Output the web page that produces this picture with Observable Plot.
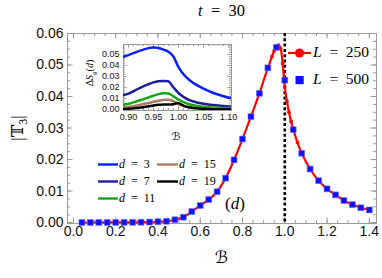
<!DOCTYPE html>
<html><head><meta charset="utf-8">
<script src="https://cdn.jsdelivr.net/npm/d3@7"></script>
<script src="https://cdn.jsdelivr.net/npm/@observablehq/plot@0.6"></script>
<style>
body{margin:0;background:#fff;}
#c{position:relative;width:382px;height:278px;overflow:hidden;}
#c svg{position:absolute;overflow:visible;}
</style></head><body><div id="c"></div>
<script>
// ---- main panel data ----
const B500 = [0.04,0.08,0.12,0.16,0.20,0.24,0.28,0.32,0.36,0.40,0.44,0.48,0.52,0.56,0.60,0.64,0.68,0.72,0.76,0.80,0.84,0.88,0.92,0.96,1.00,1.04,1.08,1.12,1.16,1.20,1.24,1.28,1.32,1.36,1.40];
const T500 = [0.00002,0.00002,0.00003,0.00003,0.00004,0.00005,0.00007,0.0001,0.00015,0.00025,0.0004,0.0009,0.0017,0.0035,0.0054,0.0073,0.0098,0.0141,0.0199,0.0265,0.0336,0.0410,0.0491,0.0556,0.0452,0.0295,0.0220,0.0170,0.0133,0.0107,0.0088,0.0070,0.0057,0.0047,0.0040];
const B250 = [0.04,0.08,0.12,0.16,0.20,0.24,0.28,0.32,0.36,0.40,0.44,0.48,0.52,0.56,0.60,0.64,0.68,0.72,0.76,0.80,0.84,0.88,0.92,0.94,0.95,0.96,0.97,0.98,0.99,1.00,1.01,1.02,1.03,1.04,1.06,1.08,1.12,1.16,1.20,1.24,1.28,1.32,1.36,1.40];
const T250 = [0.00002,0.00002,0.00003,0.00003,0.00004,0.00005,0.00007,0.0001,0.00015,0.00025,0.0004,0.0009,0.0017,0.0035,0.0054,0.0073,0.0098,0.0141,0.0199,0.0265,0.0336,0.0410,0.0491,0.0527,0.0545,0.0557,0.0563,0.0553,0.0505,0.0430,0.0385,0.0350,0.0321,0.0297,0.0254,0.0221,0.0170,0.0133,0.0107,0.0088,0.0070,0.0057,0.0047,0.0040];
const criticalB = [1.0];
const xTicks = [0,0.2,0.4,0.6,0.8,1.0,1.2,1.4];
const yTicks = [0,0.01,0.02,0.03,0.04,0.05,0.06];
const sizes = ["250","500"];

// ---- inset data ----
const insetB = [0.89,0.90,0.92,0.94,0.95,0.96,0.97,0.98,0.99,1.00,1.01,1.02,1.03,1.05,1.07,1.09,1.105];
const S3  = [0.0480,0.0495,0.0530,0.0558,0.0563,0.0560,0.0545,0.0525,0.0480,0.0385,0.0320,0.0275,0.0240,0.0190,0.0150,0.0120,0.0102];
const S7  = [0.0132,0.0145,0.0190,0.0230,0.0247,0.0257,0.0260,0.0255,0.0200,0.0150,0.0115,0.0090,0.0073,0.0052,0.0040,0.0031,0.0026];
const S11 = [0.0045,0.0052,0.0080,0.0110,0.0125,0.0140,0.0148,0.0145,0.0120,0.0090,0.0067,0.0050,0.0038,0.0025,0.0018,0.0013,0.0011];
const S15 = [0.0018,0.0024,0.0040,0.0060,0.0070,0.0080,0.0087,0.0089,0.0075,0.0050,0.0033,0.0022,0.0016,0.0009,0.0006,0.0004,0.0004];
const S19 = [0.0004,0.0007,0.0016,0.0030,0.0037,0.0043,0.0046,0.0046,0.0048,0.0058,0.0035,0.0020,0.0013,0.0006,0.0003,0.0002,0.0002];
const dValues = [3,7,11,15,19];
const dColors = ["#0a1eff","#1c1c9c","#14a814","#a97c5c","#000000"];
const insetXTicks = [0.90,0.95,1.00,1.05,1.10];
const insetYTicks = [0,0.01,0.02,0.03,0.04,0.05];

const SANS = "'Liberation Sans', Arial, sans-serif";
const SERIF = "'Liberation Serif', 'DejaVu Serif', 'DejaVu Sans', serif";
const FRAME = "#9a9a9a";

function steps(a, b, s){ const o=[]; const n=Math.round((b-a)/s); for(let i=0;i<=n;i++) o.push(+(a+i*s).toFixed(6)); return o; }
function frameTicks(xs, ys, len, fw, fh){
  return [
    Plot.tickX(xs, {x: d=>d, insetTop: fh-len, stroke: FRAME}),
    Plot.tickX(xs, {x: d=>d, insetBottom: fh-len, stroke: FRAME}),
    Plot.tickY(ys, {y: d=>d, insetRight: fw-len, stroke: FRAME}),
    Plot.tickY(ys, {y: d=>d, insetLeft: fw-len, stroke: FRAME})
  ];
}
function rich(sel, x, y, parts, size, anchor, rotate){
  const t = sel.append("text").attr("x",x).attr("y",y)
    .attr("font-family",SERIF).attr("font-size",size)
    .attr("text-anchor",anchor||"start").attr("dominant-baseline","middle").attr("fill","#000");
  if (rotate) t.attr("transform",`rotate(${rotate},${x},${y})`);
  let shift = 0;
  parts.forEach(p=>{
    const s = t.append("tspan").text(p.t);
    if (p.i) s.attr("font-style","italic");
    if (p.sub){ s.attr("font-size", size*0.7).attr("dy", (0.3*size)+"px"); shift = 0.3*size; }
    else if (shift){ s.attr("dy", (-shift)+"px"); shift = 0; }
  });
  return t;
}

const L500 = B500.map((b,i)=>({b, t:T500[i]}));
const L250 = B250.map((b,i)=>({b, t:T250[i]}));

// ---- main plot ----
const W=382, H=278, mL=67, mR=6, mT=33, mB=55;
const main = Plot.plot({
  width: W, height: H, marginLeft: mL, marginRight: mR, marginTop: mT, marginBottom: mB,
  style: {fontFamily: SANS, background: "transparent", color: "#111"},
  x: {domain: [-0.028, 1.434]},
  y: {domain: [-0.0003, 0.06]},
  marks: [
    ...frameTicks(steps(0,1.4,0.05), steps(0,0.06,0.0025), 3, W-mL-mR, H-mT-mB),
    ...frameTicks(xTicks, yTicks, 5.5, W-mL-mR, H-mT-mB),
    Plot.frame({stroke: FRAME}),
    Plot.ruleX(criticalB, {stroke: "#000", strokeWidth: 2.6, strokeDasharray: "3,2.3"}),
    Plot.line(L250, {x: "b", y: "t", stroke: "#ff0000", strokeWidth: 2.2, curve: "catmull-rom"}),
    Plot.dot(L250, {x: "b", y: "t", r: 1.9, fill: "#ff0000"}),
    Plot.dot(L500, {x: "b", y: "t", symbol: "square", r: 3.3, fill: "#1010ff", stroke: "#6a6aff", strokeWidth: 0.6}),
    Plot.axisX(xTicks, {tickSize: 0, tickPadding: 3, fontSize: 14, tickFormat: d3.format(".1f"), label: null}),
    Plot.axisY(yTicks, {tickSize: 0, tickPadding: 4, fontSize: 14, tickFormat: d3.format(".2f"), label: null})
  ]
});
main.style.left = "0px"; main.style.top = "0px";
document.getElementById("c").appendChild(main);

const g = d3.select(main).append("g");
rich(g, 221.5, 12, [{t:"t",i:true},{t:"\u2002=\u200230"}], 16.5, "middle");
rich(g, 221.5, 259, [{t:"\u212C",i:true}], 17, "middle");
rich(g, 19, 128, [{t:"|"},{t:"\uD835\uDD4B"},{t:"3",sub:true},{t:"|"}], 17, "middle", -90);
rich(g, 235, 205, [{t:"("},{t:"d",i:true},{t:")"}], 17, "middle");

// right legend (L)
g.append("line").attr("x1",288).attr("x2",311).attr("y1",53).attr("y2",53).attr("stroke","#ff0000").attr("stroke-width",2.2);
g.append("circle").attr("cx",299.5).attr("cy",53).attr("r",4.6).attr("fill","#ff0000");
g.append("rect").attr("x",295.5).attr("y",76).attr("width",8.2).attr("height",8.2).attr("fill","#1010ff");
sizes.forEach((s,k)=> rich(g, 313, 53+27*k, [{t:"L",i:true},{t:"\u2002=\u2002"+s}], 15.5, "start"));

// d legend
dValues.forEach((d,k)=>{
  const col = k<3 ? 0 : 1, row = k<3 ? k : k-3;
  const x0 = col ? 157 : 98, x1 = col ? 178 : 118, y = 164.5 + 17*row;
  g.append("line").attr("x1",x0).attr("x2",x1).attr("y1",y).attr("y2",y).attr("stroke",dColors[k]).attr("stroke-width",2.4);
  rich(g, x1+1, y, [{t:"d",i:true},{t:"\u2002=\u2002"+d}], 12, "start");
});

// ---- inset ----
const insetSeries = [S3,S7,S11,S15,S19];
const insetRows = dValues.flatMap((d,k)=> insetB.map((b,i)=>({d, b, s: insetSeries[k][i]})));
const iW=160, iH=107, imL=45, imR=7, imT=6, imB=35;
const inset = Plot.plot({
  width: iW, height: iH, marginLeft: imL, marginRight: imR, marginTop: imT, marginBottom: imB,
  style: {fontFamily: SANS, background: "transparent", color: "#111"},
  x: {domain: [0.89, 1.106]},
  y: {domain: [-0.0009, 0.0591]},
  color: {domain: dValues, range: dColors},
  marks: [
    Plot.frame({fill: "#fff", stroke: FRAME}),
    ...frameTicks(steps(0.90,1.10,0.01), steps(0,0.058,0.002), 2, iW-imL-imR, iH-imT-imB),
    ...frameTicks(insetXTicks, insetYTicks, 3.5, iW-imL-imR, iH-imT-imB),
    Plot.line(insetRows, {x: "b", y: "s", z: "d", stroke: "d", strokeWidth: 2.5, curve: "catmull-rom", clip: true}),
    Plot.axisX(insetXTicks, {tickSize: 0, tickPadding: 3, fontSize: 9, tickFormat: d3.format(".2f"), label: null}),
    Plot.axisY(insetYTicks, {tickSize: 0, tickPadding: 4, fontSize: 9, tickFormat: d3.format(".2f"), label: null})
  ]
});
inset.style.left = "78px"; inset.style.top = "38px";
document.getElementById("c").appendChild(inset);
const gi = d3.select(inset).append("g");
rich(gi, 13, 35, [{t:"\u0394"},{t:"S",i:true},{t:"g",i:true,sub:true},{t:"("},{t:"d",i:true},{t:")"}], 10, "middle", -90);
rich(gi, 98, 99, [{t:"\u212C",i:true}], 11, "middle");
</script></body></html>
